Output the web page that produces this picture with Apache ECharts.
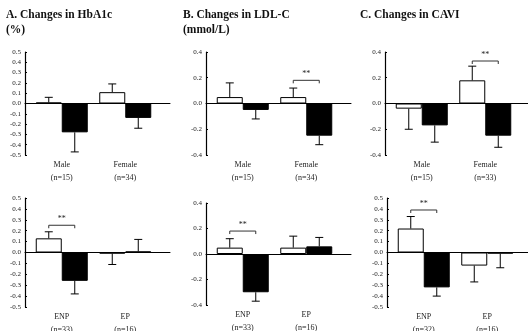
<!DOCTYPE html>
<html>
<head>
<meta charset="utf-8">
<script src="https://cdn.jsdelivr.net/npm/echarts@6/dist/echarts.min.js"></script>
<style>
  html, body { margin: 0; padding: 0; background: #fff; }
  #main { width: 528px; height: 331px; }
</style>
</head>
<body>
<div id="main"></div>
<script>
// 分组标签
const sexCatsAB = ['Male\n(n=15)', 'Female\n(n=34)'];
const sexCatsC = ['Male\n(n=15)', 'Female\n(n=33)'];
const epCatsAB = ['ENP\n(n=33)', 'EP\n(n=16)'];
const epCatsC = ['ENP\n(n=32)', 'EP\n(n=16)'];

// A. HbA1c (%)
const hbSexWhite = [0.01, 0.11];
const hbSexWhiteSe = [0.05, 0.08];
const hbSexBlack = [-0.28, -0.14];
const hbSexBlackSe = [0.19, 0.10];
const hbEpWhite = [0.13, -0.01];
const hbEpWhiteSe = [0.06, 0.10];
const hbEpBlack = [-0.26, 0.01];
const hbEpBlackSe = [0.12, 0.11];

// B. LDL-C (mmol/L)
const ldlSexWhite = [0.05, 0.05];
const ldlSexWhiteSe = [0.11, 0.07];
const ldlSexBlack = [-0.05, -0.25];
const ldlSexBlackSe = [0.07, 0.07];
const ldlEpWhite = [0.05, 0.05];
const ldlEpWhiteSe = [0.07, 0.09];
const ldlEpBlack = [-0.30, 0.06];
const ldlEpBlackSe = [0.07, 0.07];

// C. CAVI
const caviSexWhite = [-0.04, 0.18];
const caviSexWhiteSe = [0.16, 0.11];
const caviSexBlack = [-0.17, -0.25];
const caviSexBlackSe = [0.13, 0.09];
const caviEpWhite = [0.22, -0.12];
const caviEpWhiteSe = [0.11, 0.15];
const caviEpBlack = [-0.32, -0.01];
const caviEpBlackSe = [0.08, 0.13];

// ** 标记 [分组序号, 高度]
const hbEpSig = [[0, 0.25]];
const ldlSexSig = [[1, 0.18]];
const ldlEpSig = [[0, 0.18]];
const caviSexSig = [[1, 0.33]];
const caviEpSig = [[0, 0.39]];

const barW = 26;
const serif = 'Liberation Serif';

const panels = [
  {title: 'A. Changes in HbA1c\n(%)', tx: 6, ax: 25, top: 52, h: 103, lim: 0.5, step: 0.1,
   cats: sexCatsAB, white: hbSexWhite, whiteSe: hbSexWhiteSe, black: hbSexBlack, blackSe: hbSexBlackSe, sig: []},
  {title: 'B. Changes in LDL-C\n(mmol/L)', tx: 183, ax: 206, top: 52, h: 103, lim: 0.4, step: 0.2,
   cats: sexCatsAB, white: ldlSexWhite, whiteSe: ldlSexWhiteSe, black: ldlSexBlack, blackSe: ldlSexBlackSe, sig: ldlSexSig},
  {title: 'C. Changes in CAVI', tx: 360, ax: 385, top: 52, h: 103, lim: 0.4, step: 0.2,
   cats: sexCatsC, white: caviSexWhite, whiteSe: caviSexWhiteSe, black: caviSexBlack, blackSe: caviSexBlackSe, sig: caviSexSig},
  {ax: 25, top: 198, h: 109, lim: 0.5, step: 0.1,
   cats: epCatsAB, white: hbEpWhite, whiteSe: hbEpWhiteSe, black: hbEpBlack, blackSe: hbEpBlackSe, sig: hbEpSig},
  {ax: 206, top: 203, h: 102, lim: 0.4, step: 0.2,
   cats: epCatsAB, white: ldlEpWhite, whiteSe: ldlEpWhiteSe, black: ldlEpBlack, blackSe: ldlEpBlackSe, sig: ldlEpSig},
  {ax: 387, top: 198, h: 109, lim: 0.5, step: 0.1,
   cats: epCatsC, white: caviEpWhite, whiteSe: caviEpWhiteSe, black: caviEpBlack, blackSe: caviEpBlackSe, sig: caviEpSig}
];

function errData(means, ses, side) {
  return means.map(function (m, i) {
    let dir = m >= 0 ? 1 : -1;
    return [i, m, m + dir * ses[i], side];
  });
}

function renderErr(params, api) {
  let p0 = api.coord([api.value(0), api.value(1)]);
  let p1 = api.coord([api.value(0), api.value(2)]);
  let x = p0[0] + api.value(3) * barW / 2;
  let st = {stroke: '#000', lineWidth: 1};
  return {
    type: 'group',
    children: [
      {type: 'line', shape: {x1: x, y1: p0[1], x2: x, y2: p1[1]}, style: st},
      {type: 'line', shape: {x1: x - 4, y1: p1[1], x2: x + 4, y2: p1[1]}, style: st}
    ]
  };
}

function renderSig(params, api) {
  let p = api.coord([api.value(0), api.value(1)]);
  let x1 = p[0] - barW / 2, x2 = p[0] + barW / 2, y = p[1];
  return {
    type: 'group',
    children: [
      {type: 'polyline', shape: {points: [[x1, y + 3], [x1, y], [x2, y], [x2, y + 3]]},
       style: {stroke: '#333', lineWidth: 1, fill: null}},
      {type: 'text', x: p[0], y: y - 6,
       style: {text: '**', fill: '#222', font: '8px "' + serif + '"', align: 'center', verticalAlign: 'middle'}}
    ]
  };
}

let grid = [], xAxis = [], yAxis = [], series = [], title = [];

panels.forEach(function (p, i) {
  let g = i * 2;
  if (p.title) {
    title.push({
      text: p.title, left: p.tx, top: 8, padding: 0,
      textStyle: {fontFamily: serif, fontSize: 11.5, fontWeight: 'bold', color: '#111', lineHeight: 15}
    });
  }
  // 柱子
  grid.push({left: p.ax + 5, top: p.top, width: 127, height: p.h, outerBoundsMode: 'none'});
  // 轴线
  grid.push({left: p.ax, top: p.top, width: 145, height: p.h, outerBoundsMode: 'none'});

  xAxis.push({
    gridIndex: g, type: 'category', data: p.cats,
    axisLine: {show: false, onZero: false}, axisTick: {show: false},
    axisLabel: {margin: 3, fontFamily: serif, fontSize: 8, color: '#222', lineHeight: 13}
  });
  xAxis.push({
    gridIndex: g + 1, type: 'value', min: 0, max: 1,
    axisLine: {show: true, onZero: true, lineStyle: {color: '#000', width: 1}},
    axisTick: {show: false}, axisLabel: {show: false}, splitLine: {show: false}
  });
  yAxis.push({
    gridIndex: g, type: 'value', min: -p.lim, max: p.lim, show: false
  });
  yAxis.push({
    gridIndex: g + 1, type: 'value', min: -p.lim, max: p.lim, interval: p.step,
    axisLine: {show: true, lineStyle: {color: '#000', width: 1.2}},
    axisTick: {show: true, inside: true, length: 2, lineStyle: {color: '#000'}},
    splitLine: {show: false},
    axisLabel: {
      margin: 4, fontFamily: serif, fontSize: 7, color: '#222',
      formatter: function (v) { return Math.abs(v) < 1e-9 ? '0.0' : v.toFixed(1); }
    }
  });

  series.push({
    type: 'bar', xAxisIndex: g, yAxisIndex: g, data: p.white,
    barWidth: barW, barGap: '0%',
    itemStyle: {color: '#fff', borderColor: '#000', borderWidth: 1}
  });
  series.push({
    type: 'bar', xAxisIndex: g, yAxisIndex: g, data: p.black,
    barWidth: barW, barGap: '0%',
    itemStyle: {color: '#000', borderColor: '#000', borderWidth: 1}
  });
  series.push({
    type: 'custom', xAxisIndex: g, yAxisIndex: g, z: 3,
    data: errData(p.white, p.whiteSe, -1).concat(errData(p.black, p.blackSe, 1)),
    renderItem: renderErr
  });
  if (p.sig.length) {
    series.push({
      type: 'custom', xAxisIndex: g, yAxisIndex: g, z: 3,
      data: p.sig, renderItem: renderSig
    });
  }
});

let myChart = echarts.init(document.getElementById('main'));
myChart.setOption({
  animation: false,
  backgroundColor: '#fff',
  title: title,
  grid: grid,
  xAxis: xAxis,
  yAxis: yAxis,
  series: series
});
</script>
</body>
</html>
